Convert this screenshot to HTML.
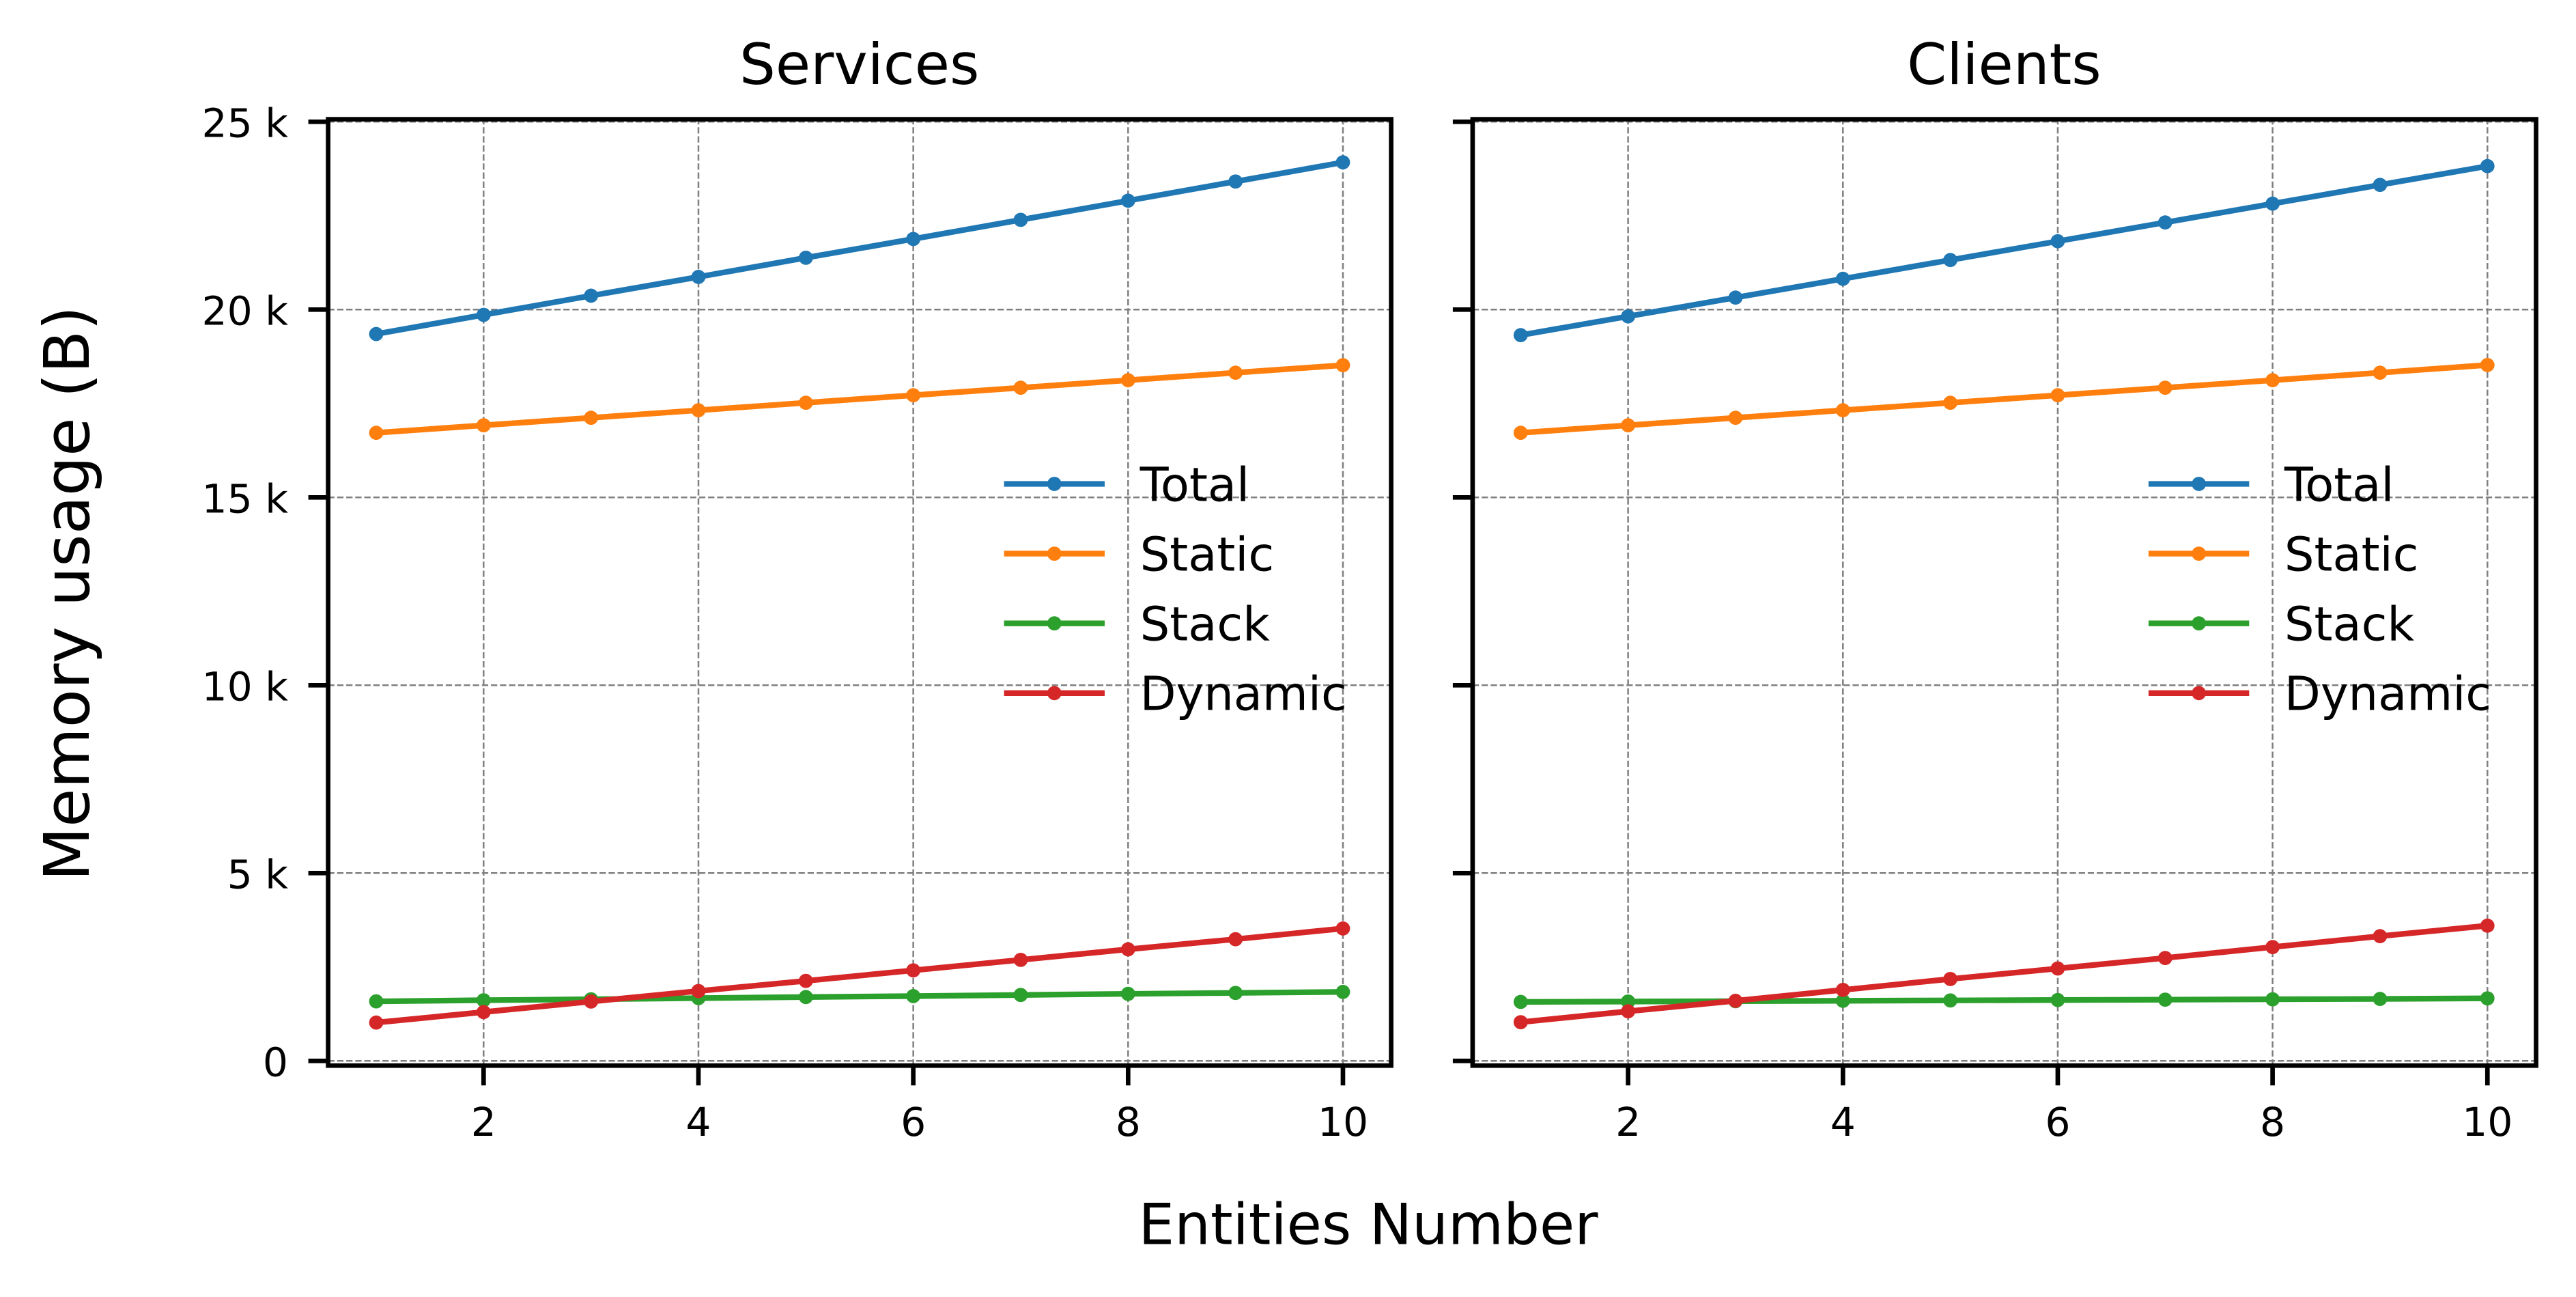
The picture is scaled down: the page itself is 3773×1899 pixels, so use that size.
<!DOCTYPE html>
<html lang="en">
<head>
<meta charset="utf-8">
<title>Memory usage</title>
<style>
html,body{margin:0;padding:0;background:#fff;width:3773px;height:1899px;overflow:hidden}
svg{display:block}
text{font-family:"DejaVu Sans","Liberation Sans",sans-serif;fill:#000}
</style>
</head>
<body>
<svg id="figure" xmlns="http://www.w3.org/2000/svg" width="3773" height="1899" viewBox="0 0 3773 1899">
<rect width="3773" height="1899" fill="#fff"/>
<text x="1258.7" y="123" font-size="83.33" text-anchor="middle">Services</text>
<text x="2935.4" y="123" font-size="83.33" text-anchor="middle">Clients</text>
<text x="2004" y="1821.5" font-size="83.33" text-anchor="middle">Entities Number</text>
<text transform="translate(130 869) rotate(-90)" x="0" y="0" font-size="91.67" text-anchor="middle">Memory usage (B)</text>
</svg>
<script>
const entities = [1, 2, 3, 4, 5, 6, 7, 8, 9, 10];
const xTickValues = [2, 4, 6, 8, 10];
const xTickLabels = ['2', '4', '6', '8', '10'];
const yTickValues = [0, 5000, 10000, 15000, 20000, 25000];
const yTickLabels = ['0', '5 k', '10 k', '15 k', '20 k', '25 k'];
const seriesNames = ['Total', 'Static', 'Stack', 'Dynamic'];
const seriesColors = ['#1f77b4', '#ff7f0e', '#2ca02c', '#d62728'];

const servicesTotal = [19350, 19860, 20370, 20870, 21380, 21880, 22390, 22900, 23410, 23920];
const servicesStatic = [16720, 16920, 17120, 17320, 17520, 17720, 17920, 18120, 18320, 18520];
const servicesStack = [1585, 1615, 1640, 1670, 1700, 1725, 1755, 1785, 1810, 1836];
const servicesDynamic = [1020, 1300, 1580, 1860, 2130, 2410, 2690, 2970, 3240, 3525];

const clientsTotal = [19320, 19820, 20320, 20820, 21320, 21820, 22320, 22820, 23320, 23820];
const clientsStatic = [16720, 16920, 17120, 17320, 17520, 17720, 17920, 18120, 18320, 18525];
const clientsStack = [1570, 1580, 1590, 1600, 1610, 1620, 1630, 1640, 1650, 1665];
const clientsDynamic = [1030, 1320, 1600, 1890, 2180, 2460, 2740, 3030, 3320, 3600];

const NS = 'http://www.w3.org/2000/svg';
const svg = document.getElementById('figure');
const AX_TOP = 174.6, AX_BOTTOM = 1560.2;
const Y0_PX = 1553.3, PX_PER_UNIT = 0.055;
const UNIT_X = 157.33;
const yScale = v => Y0_PX - v * PX_PER_UNIT;

function make(tag, parent, attrs) {
  const el = document.createElementNS(NS, tag);
  for (const k in attrs) el.setAttribute(k, attrs[k]);
  parent.appendChild(el);
  return el;
}

function drawPanel(key, left, right, x1Px, series, showYLabels, legendShift) {
  const xScale = v => x1Px + (v - 1) * UNIT_X;
  const g = make('g', svg, {});
  
  

  const clipId = key + '-clip';
  const defs = make('defs', g, {});
  const clip = make('clipPath', defs, { id: clipId });
  make('rect', clip, { x: left, y: AX_TOP, width: right - left, height: AX_BOTTOM - AX_TOP });

  const grid = make('g', g, { 'clip-path': 'url(#' + clipId + ')', stroke: '#808080', 'stroke-width': 2.5, 'stroke-dasharray': '9.25 4', fill: 'none' });
  
  
  xTickValues.forEach(v => {
    const line = make('line', grid, { x1: xScale(v), x2: xScale(v), y1: AX_BOTTOM, y2: AX_TOP });
    
    
  });
  yTickValues.forEach(v => {
    const line = make('line', grid, { x1: left, x2: right, y1: yScale(v), y2: yScale(v) });
    
    
  });

  xTickValues.forEach((v, i) => {
    const tick = make('line', g, { x1: xScale(v), x2: xScale(v), y1: AX_BOTTOM, y2: AX_BOTTOM + 29, stroke: '#000', 'stroke-width': 6.67 });
    
    
    const label = make('text', g, { x: xScale(v), y: 1663, 'font-size': 58.33, 'text-anchor': 'middle' });
    label.textContent = xTickLabels[i];
    
    
  });
  yTickValues.forEach((v, i) => {
    const tick = make('line', g, { x1: left - 29, x2: left, y1: yScale(v), y2: yScale(v), stroke: '#000', 'stroke-width': 6.67 });
    
    
    if (showYLabels) {
      const label = make('text', g, { x: 422, y: yScale(v) + 22.4, 'font-size': 58.33, 'text-anchor': 'end' });
      label.textContent = yTickLabels[i];
      
      
    }
  });

  series.forEach((values, s) => {
    const color = seriesColors[s];
    const sg = make('g', g, { 'clip-path': 'url(#' + clipId + ')' });
    
    
    const pts = values.map((v, i) => xScale(entities[i]) + ',' + yScale(v)).join(' ');
    const line = make('polyline', sg, { points: pts, fill: 'none', stroke: color, 'stroke-width': 8.33, 'stroke-linejoin': 'round', 'stroke-linecap': 'butt' });
    
    
    values.forEach((v, i) => {
      const dot = make('circle', sg, { cx: xScale(entities[i]), cy: yScale(v), r: 10.4, fill: color });
      
      
    });
  });

  const spines = make('rect', g, { x: left, y: AX_TOP, width: right - left, height: AX_BOTTOM - AX_TOP, fill: 'none', stroke: '#000', 'stroke-width': 6.67, 'stroke-linejoin': 'miter' });
  
  

  const legend = make('g', g, {});
  
  
  seriesNames.forEach((name, s) => {
    const cy = 708.5 + s * 102.1;
    const entry = make('g', legend, {});
    
    
    make('line', entry, { x1: 1470.6 + legendShift, x2: 1618 + legendShift, y1: cy, y2: cy, stroke: seriesColors[s], 'stroke-width': 8.33 });
    make('circle', entry, { cx: 1544.3 + legendShift, cy: cy, r: 10.4, fill: seriesColors[s] });
    const label = make('text', entry, { x: 1669.6 + legendShift, y: cy + 24.8, 'font-size': 68.75 });
    label.textContent = name;
  });
}

drawPanel('services', 480.6, 2037.6, 551, [servicesTotal, servicesStatic, servicesStack, servicesDynamic], true, 0);
drawPanel('clients', 2156.9, 3714.5, 2227.3, [clientsTotal, clientsStatic, clientsStack, clientsDynamic], false, 1676.3);
</script>
</body>
</html>
